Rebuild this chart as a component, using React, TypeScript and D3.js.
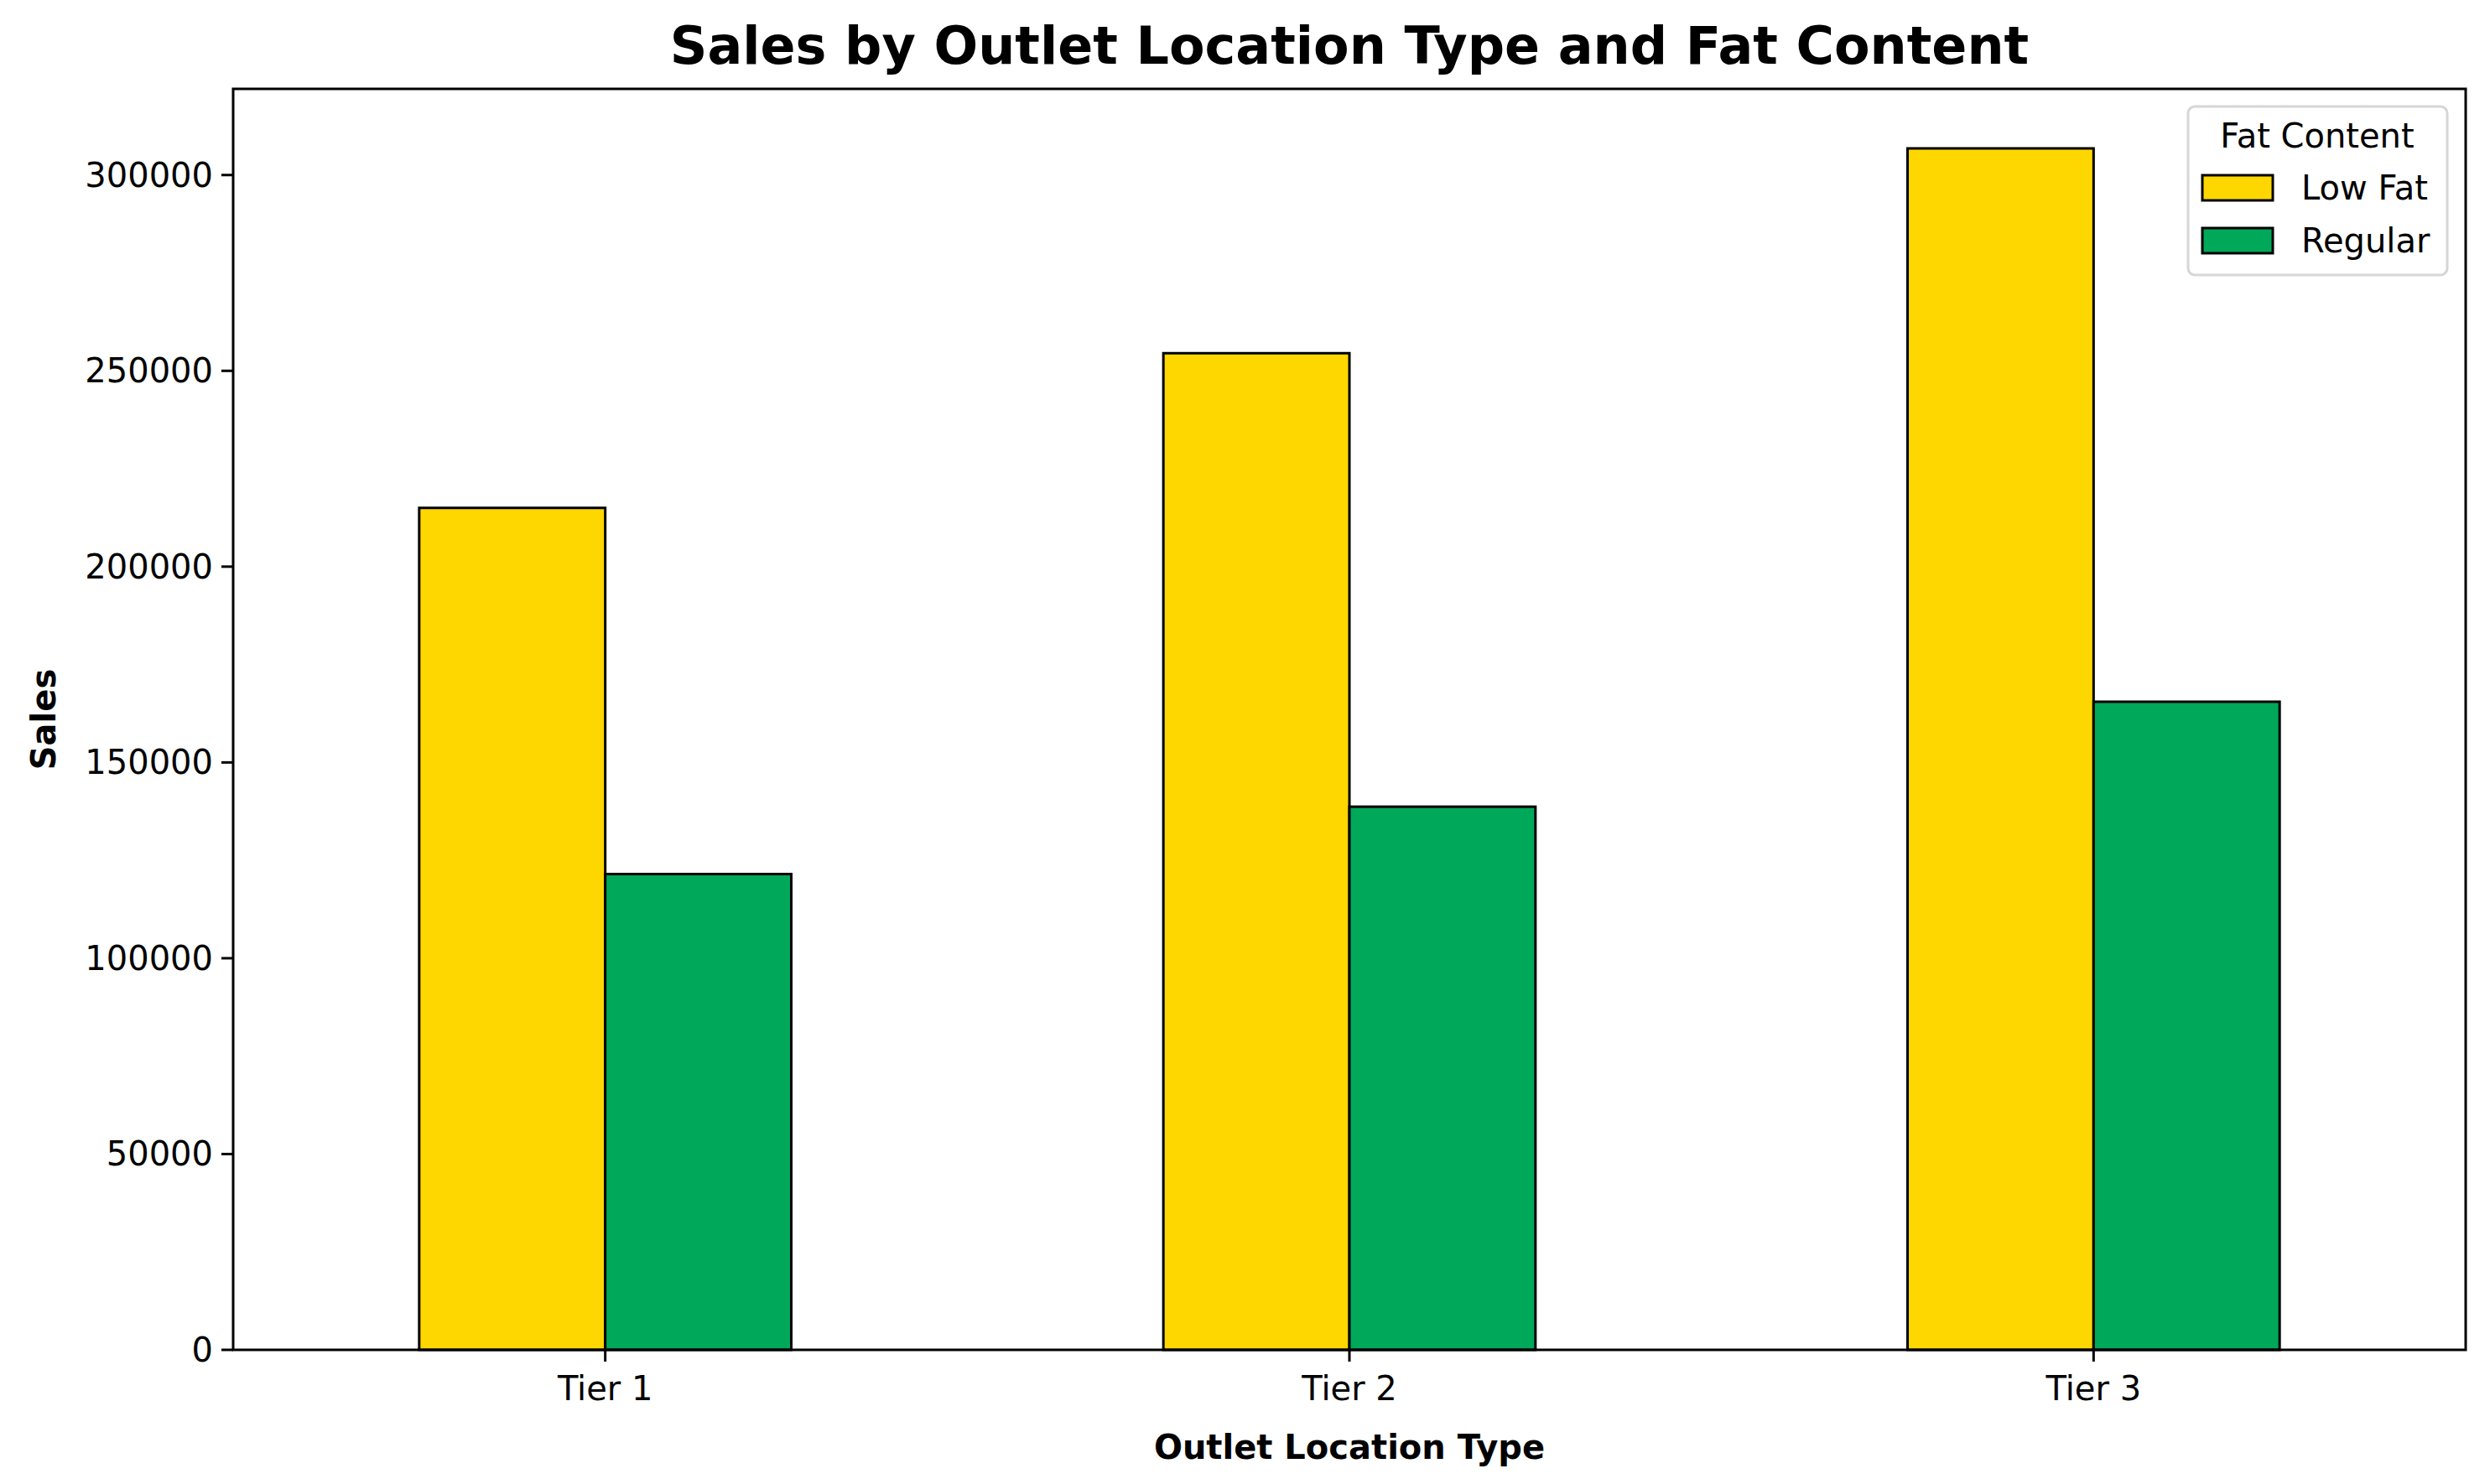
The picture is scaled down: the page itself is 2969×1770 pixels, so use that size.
import React from "react";
import * as d3 from "d3";

const categories = ["Tier 1", "Tier 2", "Tier 3"];
const seriesNames = ["Low Fat", "Regular"];
const lowFat = [215000, 254500, 306800];
const regular = [121500, 138700, 165500];
const yTicks = [0, 50000, 100000, 150000, 200000, 250000, 300000];
const colors = ["#FFD700", "#00A859"];

const W = 2969, H = 1770;
const L = 278, R = 2940, T = 106, B = 1610;
const font = "DejaVu Sans, sans-serif";

export default function App() {
  const x = d3.scaleLinear().domain([-0.5, 2.5]).range([L, R]);
  const y = d3.scaleLinear().domain([0, 322000]).range([B, T]);
  const series = [lowFat, regular];
  const bw = 0.25;
  return (
    <svg width={W} height={H} style={{ position: "absolute", left: 0, top: 0 }} fontFamily={font}>
      <rect width={W} height={H} fill="#fff" />
      {series.map((vals, s) =>
        vals.map((v, i) => {
          const x0 = x(i - 0.25 + s * bw);
          return (
            <rect key={`${s}-${i}`} x={x0} y={y(v)} width={x(i - 0.25 + (s + 1) * bw) - x0} height={y(0) - y(v)}
              fill={colors[s]} stroke="#000" strokeWidth={3} />
          );
        })
      )}
      <rect x={L} y={T} width={R - L} height={B - T} fill="none" stroke="#000" strokeWidth={3} />
      {yTicks.map((t) => (
        <g key={t}>
          <line x1={L - 14} x2={L} y1={y(t)} y2={y(t)} stroke="#000" strokeWidth={3} />
          <text x={L - 24} y={y(t)} dy="0.35em" textAnchor="end" fontSize={40}>{t}</text>
        </g>
      ))}
      {categories.map((c, i) => (
        <g key={c}>
          <line x1={x(i)} x2={x(i)} y1={B} y2={B + 14} stroke="#000" strokeWidth={3} />
          <text x={x(i)} y={B + 60} textAnchor="middle" fontSize={40}>{c}</text>
        </g>
      ))}
      <text x={(L + R) / 2} y={1740} textAnchor="middle" fontSize={40} fontWeight="bold">Outlet Location Type</text>
      <text transform={`translate(66,${(T + B) / 2}) rotate(-90)`} textAnchor="middle" fontSize={40} fontWeight="bold">Sales</text>
      <text x={(L + R) / 2} y={76} textAnchor="middle" fontSize={62} fontWeight="bold">Sales by Outlet Location Type and Fat Content</text>
      <g>
        <rect x={2609} y={127} width={309} height={201} rx={8} fill="#fff" fillOpacity={0.8} stroke="#d6d6d6" strokeWidth={3} />
        <text x={2763} y={162} dy="0.35em" textAnchor="middle" fontSize={40}>Fat Content</text>
        {seriesNames.map((n, s) => (
          <g key={n}>
            <rect x={2626} y={209 + s * 63} width={84} height={30} fill={colors[s]} stroke="#000" strokeWidth={3} />
            <text x={2744} y={224 + s * 63} dy="0.35em" fontSize={40}>{n}</text>
          </g>
        ))}
      </g>
    </svg>
  );
}
